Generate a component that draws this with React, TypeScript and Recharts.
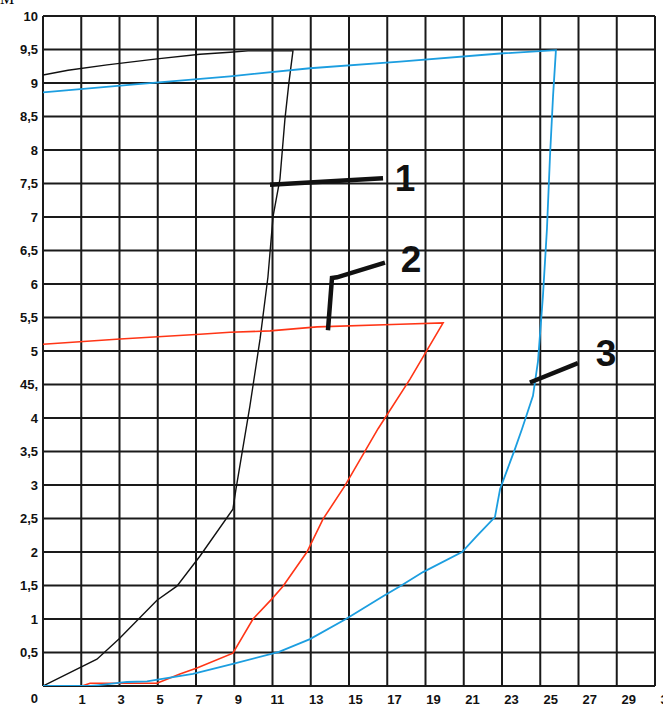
import { LineChart, Line, XAxis, YAxis, CartesianGrid, ReferenceDot } from "recharts";

// x runs in grid steps (0..32, one grid cell = 2), labels as printed on the original
const xTickLabels = ["", "1", "3", "5", "7", "9", "11", "13", "15", "17", "19", "21", "23", "25", "27", "29", "31"];
const xTicks = xTickLabels.map((_, i) => i * 2);

const yTicks = [0, 0.5, 1, 1.5, 2, 2.5, 3, 3.5, 4, 4.5, 5, 5.5, 6, 6.5, 7, 7.5, 8, 8.5, 9, 9.5, 10];
const yTickLabels = ["0", "0,5", "1", "1,5", "2", "2,5", "3", "3,5", "4", "45,", "5", "5,5", "6", "6,5", "7", "7,5", "8", "8,5", "9", "9,5", "10"];

// curve 1 (black): rise, then return along the top
const curve1 = [
  [0, 0], [2.82, 0.4], [3.97, 0.7], [5.96, 1.28], [7.0, 1.49], [8.21, 1.94], [9.93, 2.64],
  [10.09, 2.94], [10.82, 4.18], [11.35, 5.18], [11.76, 6.1], [12.03, 7.01], [12.39, 7.57],
  [12.65, 8.46], [12.86, 9.01], [13.07, 9.48],
  [11.97, 9.48], [10.72, 9.48], [9.78, 9.46], [8.21, 9.43], [5.96, 9.36], [3.35, 9.27], [1.31, 9.19], [0, 9.12],
];

// curve 2 (red)
const curve2 = [
  [0, 0], [2.04, 0], [2.46, 0.04], [5.96, 0.04], [7.16, 0.18], [8.05, 0.27], [9.93, 0.49],
  [10.98, 1.0], [11.97, 1.3], [12.55, 1.49], [13.8, 2.0], [14.64, 2.49], [15.79, 2.99],
  [17.52, 3.84], [19.19, 4.58], [20.92, 5.42],
  [18.67, 5.4], [14.33, 5.36], [11.87, 5.3], [9.78, 5.28], [8.21, 5.25], [4.03, 5.18], [0, 5.1],
];

// curve 3 (blue)
const curve3 = [
  [0, 0], [2.46, 0], [2.82, 0.01], [4.39, 0.06], [5.44, 0.07], [6.07, 0.1], [7.84, 0.18],
  [9.93, 0.33], [12.34, 0.51], [13.96, 0.7], [15.84, 1.0], [17.78, 1.34], [18.67, 1.49],
  [19.87, 1.7], [21.91, 2.0], [22.69, 2.24], [23.63, 2.52], [23.9, 2.94], [24.68, 3.54],
  [25.05, 3.84], [25.62, 4.33], [25.88, 4.84], [26.14, 5.82], [26.35, 6.82], [26.51, 7.91],
  [26.67, 8.81], [26.82, 9.49],
  [23.9, 9.44], [18.67, 9.32], [13.96, 9.22], [9.78, 9.1], [4.81, 8.98], [0, 8.86],
];

// leader lines for the curve numbers
const leader1 = [[11.87, 7.48], [17.78, 7.58]];
const leader2 = [[14.9, 5.31], [15.11, 6.09], [15.37, 6.1], [17.88, 6.32]];
const leader3 = [[25.46, 4.53], [27.97, 4.82]];
const curveLabels = [
  { text: "1", x: 18.93, y: 7.58 },
  { text: "2", x: 19.24, y: 6.38 },
  { text: "3", x: 29.44, y: 4.98 },
];

const pts = (a: number[][]) => a.map(([x, y]) => ({ x, y }));

const tickFont = { fontFamily: "Liberation Sans, Arial, sans-serif", fontWeight: 700, fontSize: 13, fill: "#111" };

const XTick = (props: any) => {
  const { x, y, payload } = props;
  const i = Math.round(payload.value / 2);
  return (
    <text x={x + i * 0.8} y={y} dy="0.71em" textAnchor="middle" {...tickFont}>
      {xTickLabels[i]}
    </text>
  );
};

const YTick = (props: any) => {
  const { x, y, payload } = props;
  const i = yTicks.indexOf(payload.value);
  return (
    <text x={x} y={y + (payload.value === 0 ? 12 : 0)} dy="0.35em" textAnchor="end" {...tickFont}>
      {yTickLabels[i]}
    </text>
  );
};

export default function App() {
  return (
    <div style={{ position: "fixed", left: 0, top: 0, width: 663, height: 707, overflow: "hidden", background: "#fff" }}>
      <div style={{ position: "absolute", left: 0, top: -10, fontFamily: "Liberation Serif, serif", fontSize: 16, lineHeight: "18px" }}>M</div>
      <LineChart width={663} height={707} margin={{ top: 16, right: 8, left: 0, bottom: 0 }}>
        <CartesianGrid stroke="#1a1a1a" strokeWidth={2} />
        <XAxis
          type="number"
          dataKey="x"
          domain={[0, 32]}
          ticks={xTicks}
          height={21}
          axisLine={false}
          tickLine={false}
          tickSize={3}
          tickMargin={6}
          tick={<XTick />}
          interval={0}
          allowDataOverflow
        />
        <YAxis
          type="number"
          dataKey="y"
          domain={[0, 10]}
          ticks={yTicks}
          width={43}
          axisLine={false}
          tickLine={false}
          tickSize={3}
          tickMargin={2}
          tick={<YTick />}
          interval={0}
          allowDataOverflow
        />
        <Line data={pts(curve1)} dataKey="y" type="linear" stroke="#111" strokeWidth={1.4} dot={false} isAnimationActive={false} />
        <Line data={pts(curve2)} dataKey="y" type="linear" stroke="#ff3516" strokeWidth={1.6} dot={false} isAnimationActive={false} />
        <Line data={pts(curve3)} dataKey="y" type="linear" stroke="#1c9ee0" strokeWidth={1.8} dot={false} isAnimationActive={false} />
        <Line data={pts(leader1)} dataKey="y" type="linear" stroke="#111" strokeWidth={4.5} dot={false} isAnimationActive={false} />
        <Line data={pts(leader2)} dataKey="y" type="linear" stroke="#111" strokeWidth={4.5} dot={false} isAnimationActive={false} />
        <Line data={pts(leader3)} dataKey="y" type="linear" stroke="#111" strokeWidth={4.5} dot={false} isAnimationActive={false} />
        {curveLabels.map((l) => (
          <ReferenceDot
            key={l.text}
            x={l.x}
            y={l.y}
            r={0}
            shape={(p: any) => (
              <text
                x={p.cx}
                y={p.cy}
                dy="0.36em"
                textAnchor="middle"
                fontFamily="Liberation Sans, Arial, sans-serif"
                fontWeight={700}
                fontSize={37}
                fill="#111"
              >
                {l.text}
              </text>
            )}
          />
        ))}
      </LineChart>
    </div>
  );
}
